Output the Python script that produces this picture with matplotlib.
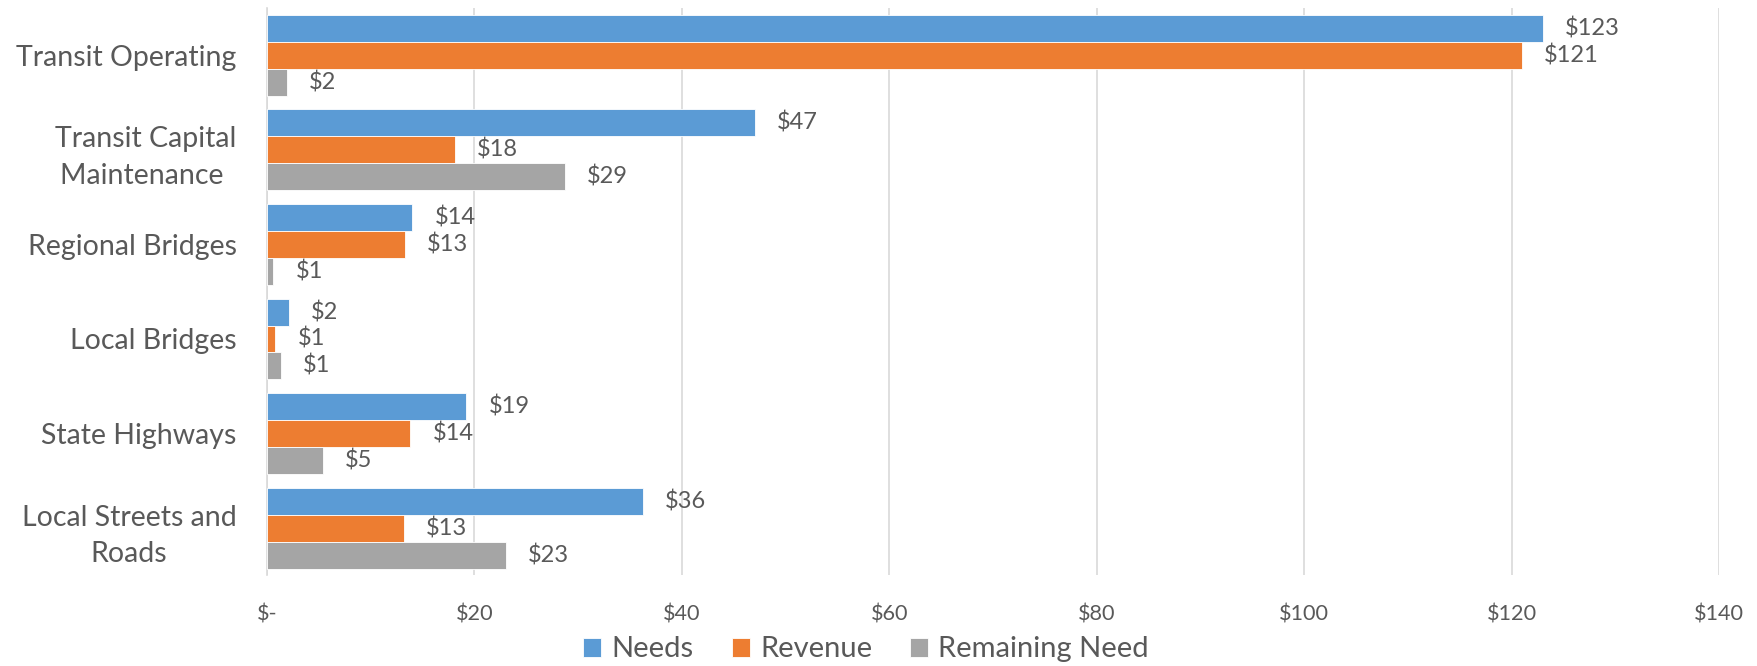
import matplotlib
matplotlib.use("Agg")
import matplotlib.pyplot as plt
import numpy as np

categories = ["Transit Operating", "Transit Capital\nMaintenance ", "Regional Bridges",
              "Local Bridges", "State Highways", "Local Streets and\nRoads"]
needs = [123.0, 47.0, 14.0, 2.1, 19.2, 36.2]
revenue = [121.0, 18.1, 13.3, 0.8, 13.8, 13.2]
remaining = [1.9, 28.7, 0.6, 1.3, 5.4, 23.0]
series_names = ["Needs", "Revenue", "Remaining Need"]
colors = ["#5B9BD5", "#ED7D31", "#A5A5A5"]
xticks = [0, 20, 40, 60, 80, 100, 120, 140]
xticklabels = ["$-", "$20", "$40", "$60", "$80", "$100", "$120", "$140"]

plt.rcParams['font.family'] = ['Lato', 'DejaVu Sans']
txt = "#595959"

fig = plt.figure(figsize=(17.57, 6.66), dpi=100)
ax = fig.add_axes([0.152, 0.136, 0.9784 - 0.152, 0.988 - 0.136])

y = np.arange(len(categories))
h = 0.285
for i, (vals, name, c) in enumerate(zip([needs, revenue, remaining], series_names, colors)):
    pos = y + (i - 1) * h
    ax.barh(pos, vals, height=h, color=c, label=name, edgecolor="white", linewidth=0.6, zorder=3)
    for p, v in zip(pos, vals):
        ax.annotate(f"${v:.0f}", xy=(v, p), xytext=(16, 0), textcoords="offset points",
                    ha="left", va="center", fontsize=17, color=txt)

ax.set_ylim(len(categories) - 0.5, -0.5)
ax.set_xlim(0, 140)
ax.set_yticks(y)
ax.set_yticklabels(categories, fontsize=20.5, color=txt)
for t in ax.get_yticklabels():
    t.set_multialignment("center")
    t.set_linespacing(1.5)
ax.set_xticks(xticks)
ax.set_xticklabels(xticklabels, fontsize=15.6, color=txt)
ax.tick_params(axis="both", length=0)
ax.tick_params(axis="x", pad=21)
ax.tick_params(axis="y", pad=22)
ax.grid(axis="x", color="#D9D9D9", linewidth=1.2, zorder=0)
for s in ["top", "right", "bottom"]:
    ax.spines[s].set_visible(False)
ax.spines["left"].set_color("#D9D9D9")
ax.spines["left"].set_linewidth(1.2)

leg = fig.legend(loc="center", bbox_to_anchor=(0.493, 0.025), ncol=3, frameon=False,
                 fontsize=21, handlelength=0.62, handleheight=0.62, handletextpad=0.35,
                 columnspacing=1.3, borderpad=0)
for t in leg.get_texts():
    t.set_color(txt)

fig.savefig("out.png", dpi=100)
